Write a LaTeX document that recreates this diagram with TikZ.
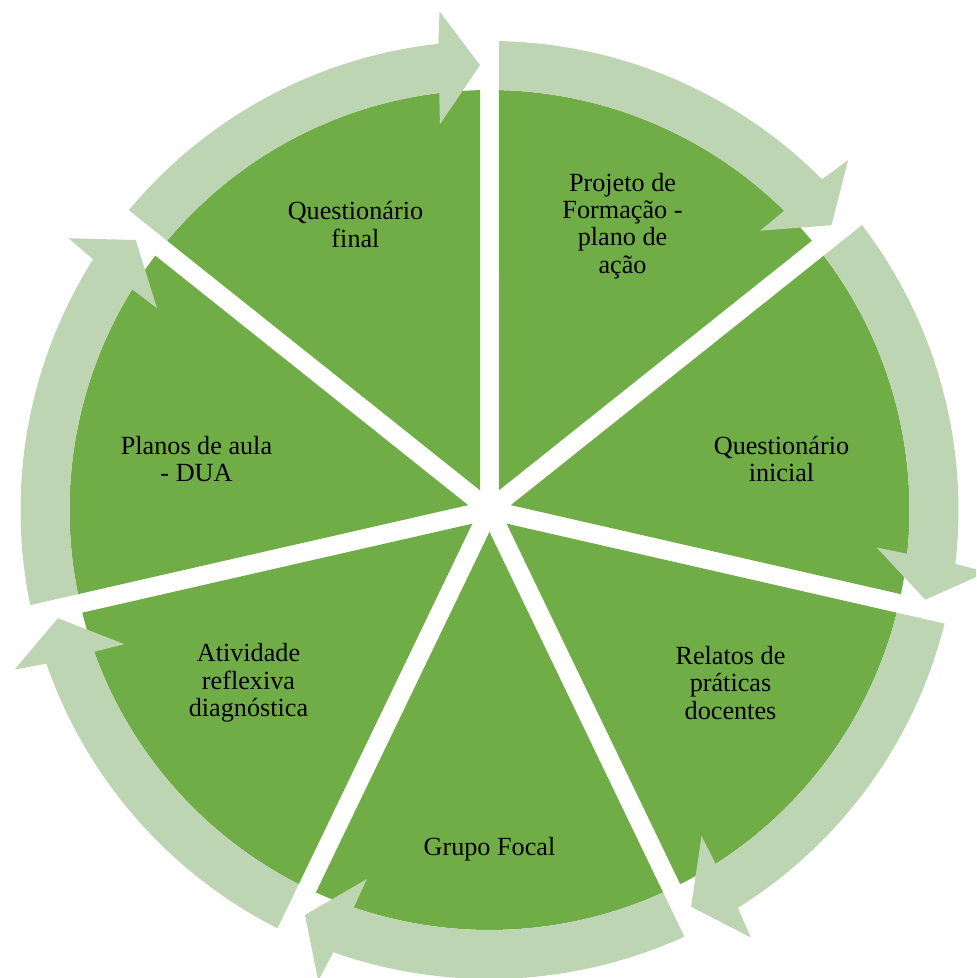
\documentclass[tikz,border=0pt]{standalone}
\usepackage{fontspec}
\setmainfont{Liberation Serif}

\definecolor{leafgreen}{RGB}{112,173,71}
\definecolor{palegreen}{RGB}{189,213,179}

\begin{document}
\begin{tikzpicture}[x=0.5pt, y=0.5pt,
	slice/.style={fill=leafgreen, insert path={(#1-25.714:21.9) -- (#1-1.296:420)
		arc[start angle=#1-1.296, end angle=#1-50.133, radius=420] -- cycle}},
	band/.style={fill=palegreen, insert path={(#1-1.161:469)
		arc[start angle=#1-1.161, end angle=#1-45.159, radius=469]
		-- (#1-45.709:501) -- (#1-50.209:445) -- (#1-44.109:389) -- (#1-44.559:420)
		arc[start angle=#1-44.559, end angle=#1-1.296, radius=420] -- cycle}},
	txt/.style={align=center, inner sep=0pt, font=\fontsize{13.1}{13.65}\selectfont}]

\useasboundingbox (-489.5,-468) rectangle (486.5,510);
\clip (-489.5,-468) rectangle (486.5,510);

% seven slices, clockwise from the top
\fill[slice=90];
\fill[slice=38.571];
\fill[slice=-12.857];
\fill[slice=-64.286];
\fill[slice=-115.714];
\fill[slice=-167.143];
\fill[slice=141.429];

% outer arrows
\fill[band=90];
\fill[band=38.571];
\fill[band=-12.857];
\fill[band=-64.286];
\fill[band=-115.714];
\fill[band=-167.143];
\fill[band=141.429];

\node[txt] at (-134,285.5) (qfinal) {Questionário\\final};
\node[txt] at (133,284) (projeto) {Projeto de\\Formação -\\plano de\\ação};
\node[txt] at (292,51) (qinicial) {Questionário\\inicial};
\node[txt] at (241,-173) (relatos) {Relatos de\\práticas\\docentes};
\node[txt] at (0,-339) (grupo) {Grupo Focal};
\node[txt] at (-241,-173) (atividade) {Atividade\\reflexiva\\diagnóstica};
\node[txt] at (-293,51) (planos) {Planos de aula\\- DUA};
\end{tikzpicture}
\end{document}
